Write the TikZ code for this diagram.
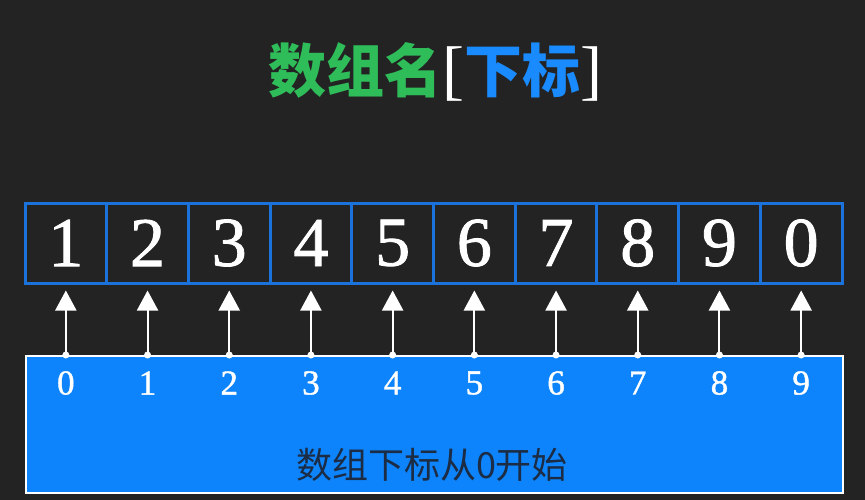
\documentclass[tikz,border=0pt]{standalone}
\usepackage{fontspec}
\setmainfont{Liberation Serif}
\newfontfamily\digitfont[FakeBold=1.2]{Liberation Serif}
\newfontfamily\cjk{Noto Sans CJK SC}
\usetikzlibrary{arrows.meta}
\definecolor{bgdark}{HTML}{232323}
\definecolor{cellblue}{HTML}{1B72DA}
\definecolor{barblue}{HTML}{0D84FB}
\definecolor{titlegreen}{HTML}{2FBD5A}
\definecolor{titleblue}{HTML}{1A8BFF}
\definecolor{captiondark}{HTML}{1B2C44}
\tikzset{
  cellbox/.style={draw=cellblue, line width=3pt, fill=bgdark, minimum width=81.7,
    minimum height=80, inner sep=0, text=white, font=\digitfont\fontsize{70}{70}\selectfont},
  idxnum/.style={text=white, inner sep=0, font=\digitfont\fontsize{35}{35}\selectfont},
  ptr/.style={white, line width=2pt, -{Triangle[width=21pt, length=20pt]}, shorten >=6pt}
}
\begin{document}
\begin{tikzpicture}[x=1pt, y=-1pt]
  % Background and page size.
  \fill[bgdark] (0,0) rectangle (865,500);
  \useasboundingbox (0,0) rectangle (865,500);
  % Title.
  \node (title) at (435,72) {\fontsize{58}{58}\selectfont
    {\cjk\bfseries\color{titlegreen}数组名}{\color{white}\fontsize{66}{66}\selectfont[}{\cjk\bfseries\color{titleblue}下标}{\color{white}\fontsize{66}{66}\selectfont]}};
  % Index bar.
  \node[draw=white, line width=2pt, fill=barblue, minimum width=817, minimum height=137,
    inner sep=0, anchor=north west] (bar) at (25,355) {};
  \node[text=captiondark, font=\cjk\fontsize{36}{36}\selectfont] (caption) at (432,465) {数组下标从0开始};
  % Array cells, indices and pointers.
  \foreach \v [count=\i from 0] in {1,2,3,4,5,6,7,8,9,0} {
    \node[cellbox] (c\i) at ({65.85+81.7*\i},243) {\v};
    \node[idxnum] (n\i) at ({65.85+81.7*\i},383) {\i};
    \coordinate (b\i) at (c\i.center |- bar.north);
    \fill[white] (b\i) circle (3.5);
    \draw[ptr] (b\i) -- (c\i.south);
  }
\end{tikzpicture}
\end{document}
